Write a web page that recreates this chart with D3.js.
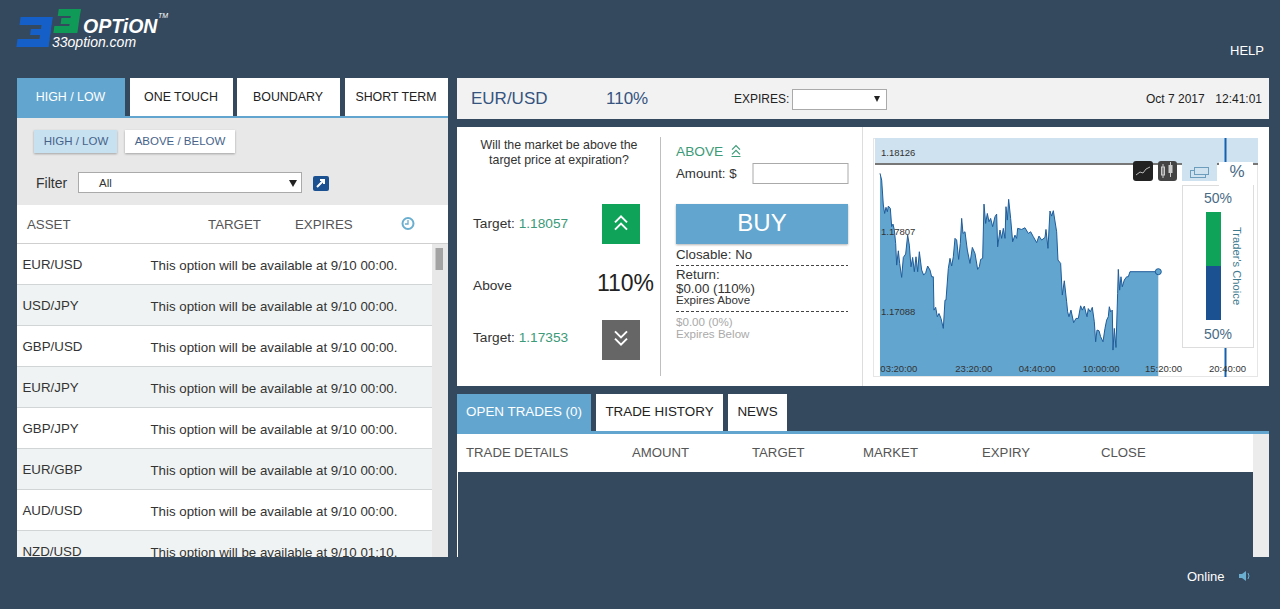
<!DOCTYPE html>
<html>
<head>
<meta charset="utf-8">
<script src="https://cdnjs.cloudflare.com/ajax/libs/d3/7.8.5/d3.min.js"></script>
<style>
  html, body { margin: 0; padding: 0; background: #35495e; overflow: hidden; }
  svg { display: block; }
  text { font-family: "Liberation Sans", Arial, sans-serif; }
</style>
</head>
<body>
<svg id="page" width="1280" height="609"></svg>
<script>
// price series, time is in steps of 100 seconds from the left of the plot
var seriesTime = [0,5,10,14,18,22,25,31,35,39,43,47,50,55,59,65,70,77,83,88,93,98,103,108,113,118,125,131,137,143,150,155,160,162,167,172,177,183,190,195,198,205,210,215,220,225,230,236,241,245,249,255,262,270,277,285,293,298,302,308,312,317,322,327,332,338,345,350,353,360,365,370,375,378,382,386,392,398,405,410,413,425,435,445,452,460,470,477,485,495,498,504,510,515,520,530,534,542,547,553,560,563,567,573,581,588,595,602,607,613,621,625,631,637,643,647,651,657,662,669,675,680,685,688,692,697,699,703,708,713,715,719,723,727,733,740,745,750,835];
var seriesPrice = [1.17987,1.17943,1.17781,1.17726,1.17766,1.17737,1.17774,1.17759,1.17640,1.17657,1.17618,1.17531,1.17390,1.17483,1.17401,1.17310,1.17440,1.17462,1.17585,1.17520,1.17379,1.17440,1.17347,1.17444,1.17347,1.17477,1.17358,1.17325,1.17340,1.17384,1.17358,1.17314,1.17314,1.17097,1.17115,1.17054,1.17075,1.17043,1.16978,1.17162,1.17162,1.17368,1.17434,1.17384,1.17444,1.17564,1.17553,1.17427,1.17531,1.17694,1.17596,1.17607,1.17488,1.17401,1.17505,1.17466,1.17362,1.17379,1.17427,1.17434,1.17787,1.17661,1.17726,1.17672,1.17694,1.17640,1.17705,1.17722,1.17509,1.17618,1.17564,1.17629,1.17564,1.17770,1.17683,1.17818,1.17694,1.17542,1.17585,1.17564,1.17629,1.17622,1.17633,1.17596,1.17607,1.17575,1.17536,1.17579,1.17553,1.17570,1.17622,1.17499,1.17742,1.17709,1.17744,1.17607,1.17423,1.17401,1.17195,1.17288,1.17151,1.17086,1.17054,1.17097,1.17015,1.17043,1.17043,1.17125,1.17097,1.17123,1.17054,1.17107,1.17086,1.17115,1.17021,1.16891,1.16967,1.16963,1.16924,1.16891,1.16978,1.17032,1.17054,1.17119,1.17086,1.17097,1.16837,1.16978,1.16854,1.17206,1.17362,1.17227,1.17314,1.17249,1.17293,1.17314,1.17314,1.17347,1.17347];

var priceTicks = [1.18126, 1.17607, 1.17088];
var priceLabels = ["1.18126", "1.17807", "1.17088"];
var timeTicks = [55, 280, 470, 662, 849, 1041];
var timeLabels = ["03:20:00", "23:20:00", "04:40:00", "10:00:00", "15:20:00", "20:40:00"];

var traderShare = [50, 50];

var productTabs = ["HIGH / LOW", "ONE TOUCH", "BOUNDARY", "SHORT TERM"];
var assets = ["EUR/USD", "USD/JPY", "GBP/USD", "EUR/JPY", "GBP/JPY", "EUR/GBP", "AUD/USD", "NZD/USD"];
var availableAt = ["9/10 00:00", "9/10 00:00", "9/10 00:00", "9/10 00:00", "9/10 00:00", "9/10 00:00", "9/10 00:00", "9/10 01:10"];
var assetColumns = ["ASSET", "TARGET", "EXPIRES"];
var tradeTabs = ["OPEN TRADES (0)", "TRADE HISTORY", "NEWS"];
var tradeColumns = ["TRADE DETAILS", "AMOUNT", "TARGET", "MARKET", "EXPIRY", "CLOSE"];

var BLUE = "#62a5cf", NAVY = "#35495e", GREEN = "#0fa35a", TEAL = "#3c9a78", INK = "#333333";

var svg = d3.select("#page");

function box(parent, x, y, w, h, fill, stroke){
  return parent.append("rect")
    .attr("x", x).attr("y", y).attr("width", w).attr("height", h)
    .attr("fill", fill).attr("stroke", stroke || "none");
}

function label(parent, x, y, str, size, fill, anchor){
  return parent.append("text")
    .attr("x", x).attr("y", y)
    .attr("font-size", size)
    .attr("fill", fill || INK)
    .attr("text-anchor", anchor || "start")
    .text(str);
}

function chevrons(parent, cx, cy, dir, color, half, weight){
  // double chevron, dir -1 points up and 1 points down
  var rise = half / 2, gap = half * 0.6;
  [-gap, gap].forEach(function(off){
    parent.append("path")
      .attr("d", d3.line()([[cx - half, cy + off - dir * rise], [cx, cy + off + dir * rise], [cx + half, cy + off - dir * rise]]))
      .attr("fill", "none").attr("stroke", color).attr("stroke-width", weight);
  });
}

box(svg, 0, 0, 1280, 609, NAVY);

//logo
var logo = svg.append("g");
[[18,17,32,8],[30,29,20,6],[18,39,32,8],[40,17,10,30]].forEach(function(r){
  box(logo, r[0], r[1], r[2], r[3], "#1560c8").attr("transform", "skewX(-8) translate(5,0)");
});
[[58,9,22,7],[62,18,16,6],[56,26,22,7],[71,9,9,24]].forEach(function(r){
  box(logo, r[0], r[1], r[2], r[3], "#0f9a58").attr("transform", "skewX(-8) translate(2,0)");
});
label(logo, 83, 33, "OPTiON", 19.5, "#ffffff").attr("font-style", "italic").attr("font-weight", "bold");
label(logo, 52, 47, "33option.com", 14, "#ffffff").attr("font-style", "italic");
label(logo, 158, 18, "TM", 7, "#ffffff").attr("font-style", "italic");
label(svg, 1230, 55, "HELP", 13, "#ffffff");

//left panel
var left = svg.append("g");
productTabs.forEach(function(t, i){
  var tx = [17, 130, 237, 345][i], tw = [108, 103, 103, 103][i];
  box(left, tx, 78, tw, 38, i == 0 ? BLUE : "#ffffff");
  label(left, tx + tw / 2 - 0.5, 101, t, 12.4, i == 0 ? "#ffffff" : "#222222", "middle");
});
box(left, 17, 116, 431, 2, BLUE);
box(left, 17, 118, 431, 87, "#e8e8e8");

box(left, 34, 130, 83, 23, "#c8e1f0").style("filter", "drop-shadow(0 1px 1px rgba(0,0,0,.3))");
label(left, 76, 145, "HIGH / LOW", 11.5, "#46638a", "middle");
box(left, 125, 130, 110, 23, "#ffffff").style("filter", "drop-shadow(0 1px 1px rgba(0,0,0,.3))");
label(left, 180, 145, "ABOVE / BELOW", 11.5, "#46638a", "middle");

label(left, 36, 188, "Filter", 14, "#333333");
box(left, 78.5, 172.5, 223, 20, "#ffffff", "#aaaaaa");
label(left, 99, 187, "All", 11.5, "#333333");
left.append("path").attr("d", "M289,180h8l-4,7z").attr("fill", "#222222");
box(left, 313, 176, 16, 15, "#1b5190").attr("rx", 2);
left.append("path").attr("d", "M317,187l7,-7M320,180h4v4").attr("stroke", "#ffffff").attr("stroke-width", 2).attr("fill", "none");

box(left, 17, 205, 431, 39, "#ffffff");
assetColumns.forEach(function(c, i){
  label(left, [27, 208, 295][i], 229, c, 13.3, "#555555");
});
left.append("circle").attr("cx", 408).attr("cy", 223.5).attr("r", 5.5).attr("fill", "none").attr("stroke", "#6aaed0").attr("stroke-width", 2);
left.append("path").attr("d", "M408,220v4h-3").attr("fill", "none").attr("stroke", "#6aaed0").attr("stroke-width", 1.3);

svg.append("clipPath").attr("id", "rows").append("rect").attr("x", 17).attr("y", 244).attr("width", 415).attr("height", 313);
var rowY = d3.scaleBand().domain(assets).range([244, 572]);
var rows = left.append("g").attr("clip-path", "url(#rows)")
  .selectAll("g").data(assets).enter().append("g")
  .attr("transform", function(d){ return "translate(0," + rowY(d) + ")"; });
rows.append("rect").attr("x", 17).attr("width", 415).attr("height", rowY.bandwidth())
  .attr("fill", function(d, i){ return i % 2 ? "#f0f3f4" : "#ffffff"; });
rows.append("rect").attr("x", 17).attr("y", rowY.bandwidth() - 1).attr("width", 415).attr("height", 1).attr("fill", "#d2d5d6");
rows.append("text").attr("x", 22.5).attr("y", 25).attr("font-size", 13.3).attr("fill", "#333333").text(function(d){ return d; });
rows.append("text").attr("x", 150.5).attr("y", 26).attr("font-size", 13.3).attr("fill", "#333333")
  .text(function(d, i){ return "This option will be available at " + availableAt[i] + "."; });
box(left, 17, 243, 431, 1, "#cfcfcf");
box(left, 432, 244, 16, 313, "#e8e8e8");
box(left, 435.5, 248, 7.5, 22, "#a3a3a3");

//top strip
var head = svg.append("g");
box(head, 457, 78, 812, 41, "#f2f2f2");
label(head, 471, 104, "EUR/USD", 17, "#35547f");
label(head, 606, 104, "110%", 17, "#35547f");
label(head, 734, 103, "EXPIRES:", 12, "#222222");
box(head, 792.5, 89.5, 94, 20, "#ffffff", "#aaaaaa");
head.append("path").attr("d", "M874,96h6l-3,6z").attr("fill", "#222222");
label(head, 1146, 103, "Oct 7 2017", 12, "#222222");
label(head, 1262, 103, "12:41:01", 12, "#222222", "end");

//trade ticket
var ticket = svg.append("g");
box(ticket, 457, 127, 812, 259, "#ffffff");
box(ticket, 660, 137, 1, 239, "#bfbfbf");
box(ticket, 862, 127, 1, 259, "#dddddd");

label(ticket, 559, 149, "Will the market be above the", 12.4, INK, "middle");
label(ticket, 559, 164, "target price at expiration?", 12.4, INK, "middle");

var t1 = label(ticket, 473, 228, "Target: ", 13.7, INK);
t1.append("tspan").attr("fill", TEAL).text("1.18057");
box(ticket, 602, 204, 38, 40, GREEN);
chevrons(ticket, 621, 223, -1, "#ffffff", 6, 2);

label(ticket, 473, 290, "Above", 13.7, INK);
label(ticket, 625.5, 291, "110%", 23, "#222222", "middle");

var t2 = label(ticket, 473, 342, "Target: ", 13.7, INK);
t2.append("tspan").attr("fill", TEAL).text("1.17353");
box(ticket, 602, 320, 38, 40, "#666666");
chevrons(ticket, 621, 338, 1, "#ffffff", 6, 2);

label(ticket, 676, 156, "ABOVE", 13.7, TEAL);
chevrons(ticket, 736, 150, -1, TEAL, 4, 1.2);
box(ticket, 731.5, 156, 9, 1, TEAL);
label(ticket, 676, 178, "Amount: $", 13.3, INK);
box(ticket, 753, 163.5, 95, 20, "#ffffff", "#aaaaaa");

box(ticket, 676, 204, 172, 40, BLUE).style("filter", "drop-shadow(0 1px 1px rgba(0,0,0,.3))");
label(ticket, 762, 231, "BUY", 24, "#ffffff", "middle");
label(ticket, 676, 259, "Closable: No", 13.3, INK);
ticket.append("line").attr("x1", 676).attr("x2", 848).attr("y1", 265.5).attr("y2", 265.5).attr("stroke", "#444444").attr("stroke-dasharray", "3,2");
label(ticket, 676, 279, "Return:", 13.3, INK);
label(ticket, 676, 293, "$0.00 (110%)", 13.3, INK);
label(ticket, 676, 304, "Expires Above", 11.6, INK);
ticket.append("line").attr("x1", 676).attr("x2", 848).attr("y1", 311.5).attr("y2", 311.5).attr("stroke", "#444444").attr("stroke-dasharray", "3,2");
label(ticket, 676, 326, "$0.00 (0%)", 11.6, "#aaaaaa");
label(ticket, 676, 338, "Expires Below", 11.6, "#aaaaaa");

//price chart
var chart = svg.append("g");
var x = d3.scaleLinear().domain([0, 835]).range([880, 1158.3]);
var y = d3.scaleLinear().domain([1.18126, 1.17088]).range([152, 311.5]);
var chartBottom = 376;

box(chart, 873.5, 138.5, 384, 238, "#ffffff", "#e6e6e6");
box(chart, 875, 138, 383, 25, "#cfe2ef");
box(chart, 875, 163, 383, 2, "#777777");
// the line that marks the expiry
box(chart, 1224.5, 138, 2, 239, "#1560b0");

var area = d3.area()
  .x(function(d, i){ return x(seriesTime[i]); })
  .y0(chartBottom)
  .y1(function(d){ return y(d); });
var priceLine = d3.line()
  .x(function(d, i){ return x(seriesTime[i]); })
  .y(function(d){ return y(d); });

chart.append("path").datum(seriesPrice).attr("d", area).attr("fill", BLUE);
chart.append("path").datum(seriesPrice).attr("d", priceLine)
  .attr("fill", "none").attr("stroke", "#1f5c9a").attr("stroke-width", 1);
chart.append("circle")
  .attr("cx", x(seriesTime[seriesTime.length - 1]))
  .attr("cy", y(seriesPrice[seriesPrice.length - 1]))
  .attr("r", 3).attr("fill", BLUE).attr("stroke", "#1f5c9a").attr("stroke-width", 1);

var yAxis = d3.axisRight(y).tickValues(priceTicks).tickSize(0).tickPadding(0)
  .tickFormat(function(d, i){ return priceLabels[i]; });
var gy = chart.append("g").attr("transform", "translate(881,0)").call(yAxis);
gy.select(".domain").remove();
gy.selectAll("text").attr("font-size", 9.5).attr("fill", "#333333").attr("font-family", "Liberation Sans").attr("dy", "0.32em");

var xAxis = d3.axisBottom(x).tickValues(timeTicks).tickSize(0).tickPadding(0)
  .tickFormat(function(d, i){ return timeLabels[i]; });
var gx = chart.append("g").attr("transform", "translate(0,365)").call(xAxis);
gx.select(".domain").remove();
gx.selectAll("text").attr("font-size", 9.5).attr("fill", "#333333").attr("font-family", "Liberation Sans");

// chart type buttons
box(chart, 1133, 161, 20, 20, "#222222").attr("rx", 3);
chart.append("path").attr("d", "M1136,175l4,-3l3,1l3,-4l4,-2").attr("fill", "none").attr("stroke", "#bbbbbb").attr("stroke-width", 1);
box(chart, 1158, 161, 19, 20, "#444444").attr("rx", 3);
box(chart, 1161.5, 167, 3, 8, "none", "#cccccc");
box(chart, 1168.5, 165, 4, 8, "#cccccc");
chart.append("path").attr("d", "M1163,164v14M1170.5,162v15").attr("stroke", "#cccccc");

// trader's choice panel
box(chart, 1182.5, 185.5, 71, 162, "#ffffff", "#dddddd");
box(chart, 1182, 163, 35, 18, "#cfe2ef");
box(chart, 1190.5, 170.5, 15, 7, "none", "#6d9dbd");
box(chart, 1194.5, 167.5, 14, 7, "#cfe2ef", "#6d9dbd");
box(chart, 1219, 162, 34, 24, "#ffffff");
label(chart, 1237, 177, "%", 17, "#4a6b85", "middle");

var shareY = d3.scaleLinear().domain([0, d3.sum(traderShare)]).range([212, 320]);
var stacked = d3.cumsum(traderShare);
chart.selectAll(".share").data(traderShare).enter().append("rect")
  .attr("class", "share")
  .attr("x", 1206).attr("width", 15)
  .attr("y", function(d, i){ return shareY(stacked[i] - d); })
  .attr("height", function(d){ return shareY(d) - shareY(0); })
  .attr("fill", function(d, i){ return i == 0 ? GREEN : "#1b5190"; });
label(chart, 1218, 203, traderShare[0] + "%", 14, "#4a6b85", "middle");
label(chart, 1218, 339, traderShare[1] + "%", 14, "#4a6b85", "middle");
label(chart, 0, 0, "Trader's Choice", 11.2, "#3f7a8f", "middle")
  .attr("transform", "translate(1233,266) rotate(90)");

//open trades
var trades = svg.append("g");
tradeTabs.forEach(function(t, i){
  var tx = [457, 596, 728][i], tw = [134, 127, 59][i];
  box(trades, tx, 394, tw, 37, i == 0 ? BLUE : "#ffffff");
  label(trades, tx + tw / 2, 416, t, 13.4, i == 0 ? "#ffffff" : "#222222", "middle");
});
box(trades, 457, 431, 812, 3, BLUE);
box(trades, 457, 434, 796, 38, "#ffffff");
box(trades, 1253, 434, 16, 123, "#ececec");
box(trades, 457, 472, 1, 85, "#ffffff");
tradeColumns.forEach(function(c, i){
  label(trades, [466, 632, 752, 863, 982, 1101][i], 457, c, 13.2, "#555555");
});

label(svg, 1187, 581, "Online", 13, "#ffffff");
svg.append("path").attr("d", "M1239,574h3l4,-3v10l-4,-3h-3z").attr("fill", "#6aaed0");
svg.append("path").attr("d", "M1248,573q2,3 0,6").attr("fill", "none").attr("stroke", "#6aaed0");
</script>
</body>
</html>
